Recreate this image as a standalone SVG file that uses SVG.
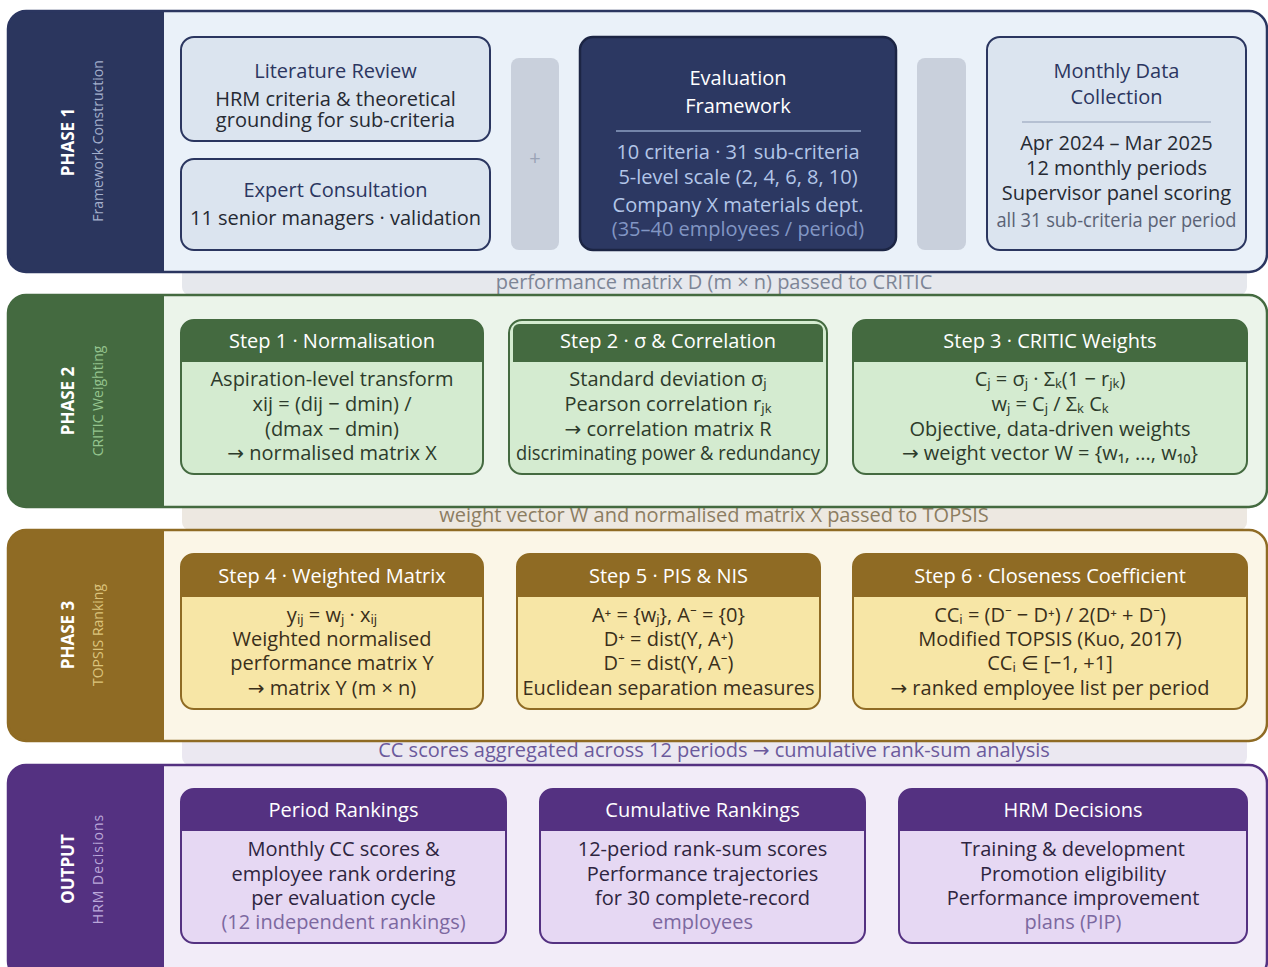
<svg xmlns="http://www.w3.org/2000/svg" width="1268" height="967" viewBox="0 0 1268 967">
<style>
text{font-family:"Open Sans","Noto Sans","DejaVu Sans",sans-serif;text-anchor:middle;font-size:20px}
.side{font-weight:700;font-size:17px;fill:#ffffff}
.sub{font-size:14px;font-weight:400}
.band{font-size:20px}
.hdr{fill:#ffffff}
.p1t{fill:#2b3660}
.p1b{fill:#262a33}
.p2b{fill:#2d3b2b}
.p3b{fill:#3a2f1a}
.p4b{fill:#2e2540}
.p4d{fill:#7c68a0}
</style>

<!-- bands (connectors between phases) -->
<g id="connectors">
  <rect x="182" y="262" width="1065" height="33" rx="8" fill="#e6e8ed"/>
  <text class="band" x="714" y="289" fill="#7d8596">performance matrix D (m × n) passed to CRITIC</text>
  <rect x="182" y="497" width="1065" height="33" rx="8" fill="#ede8e1"/>
  <text class="band" x="714" y="522" fill="#8c7d62">weight vector W and normalised matrix X passed to TOPSIS</text>
  <rect x="182" y="731" width="1065" height="34" rx="8" fill="#ebe8f1"/>
  <text class="band" x="714" y="757" fill="#6b5a9c">CC scores aggregated across 12 periods → cumulative rank-sum analysis</text>
</g>

<!-- PHASE 1 -->
<g id="phase1">
  <rect x="8" y="11" width="1259" height="261" rx="18" fill="#eaf1f9"/>
  <path d="M164,11 H26 A18,18 0 0 0 8,29 V254 A18,18 0 0 0 26,272 H164 Z" fill="#2b365e"/>
  <rect x="8" y="11" width="1259" height="261" rx="18" fill="none" stroke="#2b3660" stroke-width="2.5"/>
  <text class="side" transform="translate(74,142) rotate(-90)">PHASE 1</text>
  <text class="sub" transform="translate(103,141) rotate(-90)" fill="#a3afcc">Framework Construction</text>
</g>

<g id="lit-review">
  <rect x="181" y="37" width="309" height="104" rx="13" fill="#dbe4ef" stroke="#2b3660" stroke-width="2"/>
  <text class="p1t" x="335.5" y="78">Literature Review</text>
  <text class="p1b" x="335.5" y="106">HRM criteria &amp; theoretical</text>
  <text class="p1b" x="335.5" y="127">grounding for sub-criteria</text>
</g>
<g id="expert">
  <rect x="181" y="159" width="309" height="91" rx="13" fill="#dbe4ef" stroke="#2b3660" stroke-width="2"/>
  <text class="p1t" x="335.5" y="197">Expert Consultation</text>
  <text class="p1b" x="335.5" y="225">11 senior managers · validation</text>
</g>
<g id="plus-link">
  <rect x="511" y="58" width="48" height="192" rx="8" fill="#c9d0dc"/>
  <text x="535" y="165" fill="#9aa3b6" font-size="18">+</text>
</g>
<g id="eval-framework">
  <rect x="580" y="37" width="316" height="213" rx="13" fill="#2c3862" stroke="#1c2544" stroke-width="2.5"/>
  <text x="738" y="85" fill="#ffffff">Evaluation</text>
  <text x="738" y="113" fill="#ffffff">Framework</text>
  <line x1="616" y1="131" x2="861" y2="131" stroke="#8d9fc3" stroke-width="1.5"/>
  <text x="738" y="159" fill="#b3c6e8">10 criteria · 31 sub-criteria</text>
  <text x="738" y="184" fill="#b3c6e8">5-level scale (2, 4, 6, 8, 10)</text>
  <text x="738" y="212" fill="#b3c6e8">Company X materials dept.</text>
  <text x="738" y="236" fill="#8296c4">(35–40 employees / period)</text>
</g>
<g id="link2">
  <rect x="917" y="58" width="49" height="192" rx="8" fill="#c9d0dc"/>
</g>
<g id="monthly-data">
  <rect x="987" y="37" width="259" height="213" rx="13" fill="#dbe4ef" stroke="#2b3660" stroke-width="2"/>
  <text class="p1t" x="1116.5" y="78">Monthly Data</text>
  <text class="p1t" x="1116.5" y="104">Collection</text>
  <line x1="1022" y1="122" x2="1211" y2="122" stroke="#a9b4c8" stroke-width="1.5"/>
  <text class="p1b" x="1116.5" y="150">Apr 2024 – Mar 2025</text>
  <text class="p1b" x="1116.5" y="175">12 monthly periods</text>
  <text class="p1b" x="1116.5" y="200">Supervisor panel scoring</text>
  <text x="1116.5" y="227" font-size="16.5" fill="#5a6275" textLength="240" lengthAdjust="spacingAndGlyphs">all 31 sub-criteria per period</text>
</g>

<!-- PHASE 2 -->
<g id="phase2">
  <rect x="8" y="295" width="1259" height="212" rx="18" fill="#ebf4ea"/>
  <path d="M164,295 H26 A18,18 0 0 0 8,313 V489 A18,18 0 0 0 26,507 H164 Z" fill="#446a40"/>
  <rect x="8" y="295" width="1259" height="212" rx="18" fill="none" stroke="#446a40" stroke-width="2.5"/>
  <text class="side" transform="translate(74,401) rotate(-90)">PHASE 2</text>
  <text class="sub" transform="translate(103,401) rotate(-90)" fill="#94c48e">CRITIC Weighting</text>
</g>

<g id="step1">
  <rect x="181" y="320" width="302" height="154" rx="13" fill="#d4ebd0" stroke="#446a40" stroke-width="2"/>
  <path d="M181,362 V333 A13,13 0 0 1 194,320 H470 A13,13 0 0 1 483,333 V362 Z" fill="#446a40"/>
  <text class="hdr" x="332" y="348">Step 1 · Normalisation</text>
  <text class="p2b" x="332" y="386">Aspiration-level transform</text>
  <text class="p2b" x="332" y="411">xij = (dij − dmin) /</text>
  <text class="p2b" x="332" y="436">(dmax − dmin)</text>
  <text class="p2b" x="332" y="460">→ normalised matrix X</text>
</g>
<g id="step2">
  <rect x="509" y="320" width="318" height="154" rx="13" fill="#d4ebd0" stroke="#446a40" stroke-width="2"/>
  <path d="M513,362 V330 A6,6 0 0 1 519,324 H817 A6,6 0 0 1 823,330 V362 Z" fill="#446a40"/>
  <text class="hdr" x="668" y="348">Step 2 · σ &amp; Correlation</text>
  <text class="p2b" x="668" y="386">Standard deviation σⱼ</text>
  <text class="p2b" x="668" y="411">Pearson correlation rⱼₖ</text>
  <text class="p2b" x="668" y="436">→ correlation matrix R</text>
  <text class="p2b" x="668" y="460" font-size="16.5" textLength="304" lengthAdjust="spacingAndGlyphs">discriminating power &amp; redundancy</text>
</g>
<g id="step3">
  <rect x="853" y="320" width="394" height="154" rx="13" fill="#d4ebd0" stroke="#446a40" stroke-width="2"/>
  <path d="M853,362 V333 A13,13 0 0 1 866,320 H1234 A13,13 0 0 1 1247,333 V362 Z" fill="#446a40"/>
  <text class="hdr" x="1050" y="348">Step 3 · CRITIC Weights</text>
  <text class="p2b" x="1050" y="386">Cⱼ = σⱼ · Σₖ(1 − rⱼₖ)</text>
  <text class="p2b" x="1050" y="411">wⱼ = Cⱼ / Σₖ Cₖ</text>
  <text class="p2b" x="1050" y="436">Objective, data-driven weights</text>
  <text class="p2b" x="1050" y="460">→ weight vector W = {w₁, ..., w₁₀}</text>
</g>

<!-- PHASE 3 -->
<g id="phase3">
  <rect x="8" y="530" width="1259" height="211" rx="18" fill="#fbf6e7"/>
  <path d="M164,530 H26 A18,18 0 0 0 8,548 V723 A18,18 0 0 0 26,741 H164 Z" fill="#8f6b24"/>
  <rect x="8" y="530" width="1259" height="211" rx="18" fill="none" stroke="#8f6b24" stroke-width="2.5"/>
  <text class="side" transform="translate(74,635) rotate(-90)">PHASE 3</text>
  <text class="sub" transform="translate(103,635) rotate(-90)" fill="#dcc47c">TOPSIS Ranking</text>
</g>

<g id="step4">
  <rect x="181" y="554" width="302" height="155" rx="13" fill="#f7e6a6" stroke="#8f6b24" stroke-width="2"/>
  <path d="M181,597 V567 A13,13 0 0 1 194,554 H470 A13,13 0 0 1 483,567 V597 Z" fill="#8f6b24"/>
  <text class="hdr" x="332" y="583">Step 4 · Weighted Matrix</text>
  <text class="p3b" x="332" y="622">yᵢⱼ = wⱼ · xᵢⱼ</text>
  <text class="p3b" x="332" y="646">Weighted normalised</text>
  <text class="p3b" x="332" y="670">performance matrix Y</text>
  <text class="p3b" x="332" y="695">→ matrix Y (m × n)</text>
</g>
<g id="step5">
  <rect x="517" y="554" width="303" height="155" rx="13" fill="#f7e6a6" stroke="#8f6b24" stroke-width="2"/>
  <path d="M517,597 V567 A13,13 0 0 1 530,554 H807 A13,13 0 0 1 820,567 V597 Z" fill="#8f6b24"/>
  <text class="hdr" x="668.5" y="583">Step 5 · PIS &amp; NIS</text>
  <text class="p3b" x="668.5" y="622">A⁺ = {wⱼ}, A⁻ = {0}</text>
  <text class="p3b" x="668.5" y="646">D⁺ = dist(Y, A⁺)</text>
  <text class="p3b" x="668.5" y="670">D⁻ = dist(Y, A⁻)</text>
  <text class="p3b" x="668.5" y="695" textLength="292" lengthAdjust="spacingAndGlyphs">Euclidean separation measures</text>
</g>
<g id="step6">
  <rect x="853" y="554" width="394" height="155" rx="13" fill="#f7e6a6" stroke="#8f6b24" stroke-width="2"/>
  <path d="M853,597 V567 A13,13 0 0 1 866,554 H1234 A13,13 0 0 1 1247,567 V597 Z" fill="#8f6b24"/>
  <text class="hdr" x="1050" y="583">Step 6 · Closeness Coefficient</text>
  <text class="p3b" x="1050" y="622">CCᵢ = (D⁻ − D⁺) / 2(D⁺ + D⁻)</text>
  <text class="p3b" x="1050" y="646">Modified TOPSIS (Kuo, 2017)</text>
  <text class="p3b" x="1050" y="670">CCᵢ ∈ [−1, +1]</text>
  <text class="p3b" x="1050" y="695">→ ranked employee list per period</text>
</g>

<!-- OUTPUT -->
<g id="output">
  <rect x="8" y="765" width="1259" height="214" rx="18" fill="#f2ecf8"/>
  <path d="M164,765 H26 A18,18 0 0 0 8,783 V961 A18,18 0 0 0 26,979 H164 Z" fill="#543181"/>
  <rect x="8" y="765" width="1259" height="214" rx="18" fill="none" stroke="#543181" stroke-width="2.5"/>
  <text class="side" transform="translate(74,869) rotate(-90)">OUTPUT</text>
  <text class="sub" transform="translate(103,869) rotate(-90)" fill="#bba8da" letter-spacing="1">HRM Decisions</text>
</g>

<g id="period-rankings">
  <rect x="181" y="789" width="325" height="154" rx="13" fill="#e6d8f3" stroke="#543181" stroke-width="2"/>
  <path d="M181,831 V802 A13,13 0 0 1 194,789 H493 A13,13 0 0 1 506,802 V831 Z" fill="#543181"/>
  <text class="hdr" x="343.5" y="817">Period Rankings</text>
  <text class="p4b" x="343.5" y="856">Monthly CC scores &amp;</text>
  <text class="p4b" x="343.5" y="881">employee rank ordering</text>
  <text class="p4b" x="343.5" y="905">per evaluation cycle</text>
  <text class="p4d" x="343.5" y="929">(12 independent rankings)</text>
</g>
<g id="cumulative-rankings">
  <rect x="540" y="789" width="325" height="154" rx="13" fill="#e6d8f3" stroke="#543181" stroke-width="2"/>
  <path d="M540,831 V802 A13,13 0 0 1 553,789 H852 A13,13 0 0 1 865,802 V831 Z" fill="#543181"/>
  <text class="hdr" x="702.5" y="817">Cumulative Rankings</text>
  <text class="p4b" x="702.5" y="856">12-period rank-sum scores</text>
  <text class="p4b" x="702.5" y="881">Performance trajectories</text>
  <text class="p4b" x="702.5" y="905">for 30 complete-record</text>
  <text class="p4d" x="702.5" y="929">employees</text>
</g>
<g id="hrm-decisions">
  <rect x="899" y="789" width="348" height="154" rx="13" fill="#e6d8f3" stroke="#543181" stroke-width="2"/>
  <path d="M899,831 V802 A13,13 0 0 1 912,789 H1234 A13,13 0 0 1 1247,802 V831 Z" fill="#543181"/>
  <text class="hdr" x="1073" y="817">HRM Decisions</text>
  <text class="p4b" x="1073" y="856">Training &amp; development</text>
  <text class="p4b" x="1073" y="881">Promotion eligibility</text>
  <text class="p4b" x="1073" y="905">Performance improvement</text>
  <text class="p4d" x="1073" y="929">plans (PIP)</text>
</g>
</svg>
